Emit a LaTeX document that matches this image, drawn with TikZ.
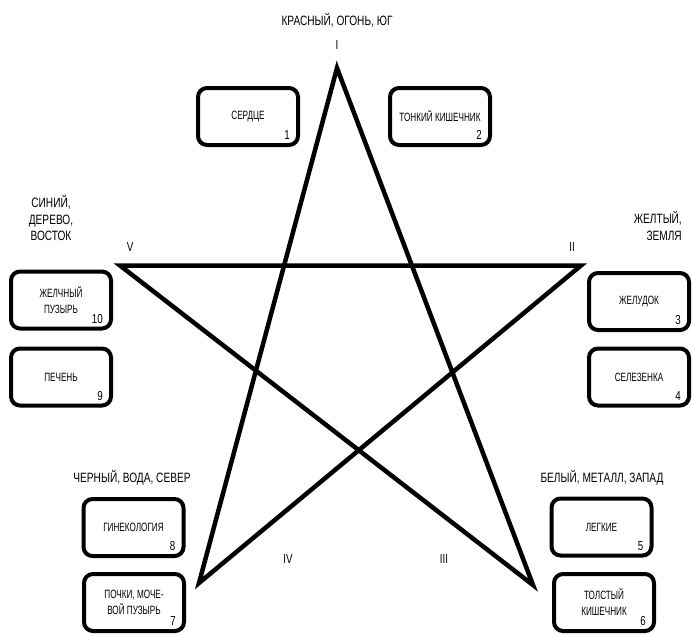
\documentclass[tikz,border=0pt]{standalone}
\usepackage{fontspec}
\usepackage{tikz}
\usetikzlibrary{positioning}
\newfontfamily\lblfont{Liberation Sans}[FakeStretch=0.75]
\newfontfamily\boxfont{Liberation Sans}[FakeStretch=0.68]

\begin{document}
\begin{tikzpicture}[x=1pt,y=-1pt,
  organ/.style={draw=black, line width=4pt, rounded corners=9pt, minimum width=100pt,
    minimum height=57pt, align=center, inner sep=2pt,
    font=\boxfont\fontsize{12}{16}\selectfont},
  num/.style={inner sep=0pt, font=\lblfont\fontsize{13}{15}\selectfont},
  elem/.style={align=center, inner sep=0pt, font=\lblfont\fontsize{13.5}{16.5}\selectfont},
  roman/.style={inner sep=0pt, font=\lblfont\fontsize{13}{15}\selectfont}]
\useasboundingbox (0,0) rectangle (692,633);

% Star
\coordinate (I) at (337,68);
\coordinate (II) at (581,265.5);
\coordinate (III) at (533,585);
\coordinate (IV) at (199,583);
\coordinate (V) at (120,265.5);
\draw[line width=4.5pt, miter limit=20] (I) -- (IV) -- (II) -- (V) -- (III) -- cycle;

% Elements
\node[elem] (fire) at (337,20) {КРАСНЫЙ, ОГОНЬ, ЮГ};
\node[elem] (wood) at (51,218) {СИНИЙ,\\ДЕРЕВО,\\ВОСТОК};
\node[elem, align=right, anchor=east] (earth) at (682,226) {ЖЕЛТЫЙ,\\ЗЕМЛЯ};
\node[elem] (water) at (132,478) {ЧЕРНЫЙ, ВОДА, СЕВЕР};
\node[elem] (metal) at (602,478) {БЕЛЫЙ, МЕТАЛЛ, ЗАПАД};

% Vertex numbers
\node[roman] (rI) at (337,45) {I};
\node[roman] (rII) at (572,247) {II};
\node[roman] (rIII) at (444,559) {III};
\node[roman] (rIV) at (288,559) {IV};
\node[roman] (rV) at (130,247) {V};

% Organs
\node[organ] (org1) at (248,116.5) {СЕРДЦЕ};
\node[organ] (org2) at (440,116.5) {ТОНКИЙ КИШЕЧНИК};
\node[organ] (org3) at (639,301.5) {ЖЕЛУДОК};
\node[organ] (org4) at (639,377) {СЕЛЕЗЕНКА};
\node[organ] (org5) at (601.5,527) {ЛЕГКИЕ};
\node[organ] (org6) at (604,602.5) {ТОЛСТЫЙ\\КИШЕЧНИК};
\node[organ] (org7) at (134,602.5) {ПОЧКИ, МОЧЕ-\\ВОЙ ПУЗЫРЬ};
\node[organ] (org8) at (133.5,527.5) {ГИНЕКОЛОГИЯ};
\node[organ] (org9) at (61,377) {ПЕЧЕНЬ};
\node[organ] (org10) at (61,300) {ЖЕЛЧНЫЙ\\ПУЗЫРЬ};

% Numbers
\node[num, above left=7pt and 10pt of org1.south east] (num1) {1};
\node[num, above left=7pt and 10pt of org2.south east] (num2) {2};
\node[num, above left=7pt and 10pt of org3.south east] (num3) {3};
\node[num, above left=7pt and 10pt of org4.south east] (num4) {4};
\node[num, above left=7pt and 10pt of org5.south east] (num5) {5};
\node[num, above left=7pt and 10pt of org6.south east] (num6) {6};
\node[num, above left=7pt and 10pt of org7.south east] (num7) {7};
\node[num, above left=7pt and 10pt of org8.south east] (num8) {8};
\node[num, above left=7pt and 10pt of org9.south east] (num9) {9};
\node[num, above left=7pt and 10pt of org10.south east] (num10) {10};

\end{tikzpicture}
\end{document}
